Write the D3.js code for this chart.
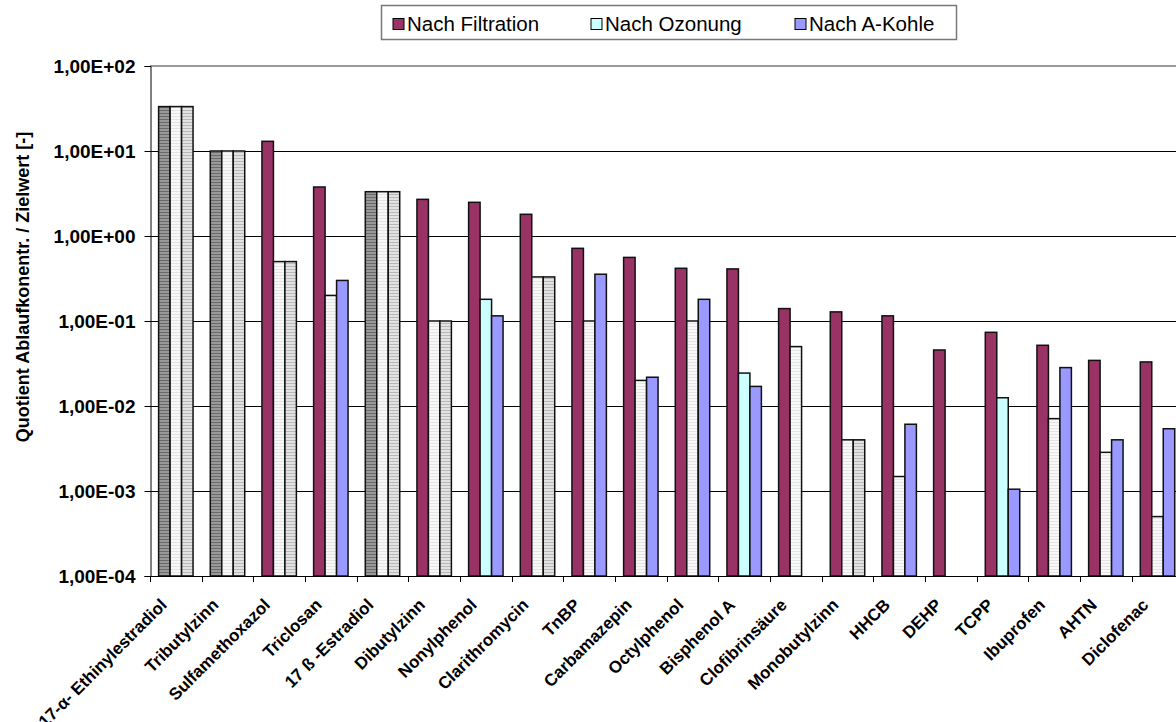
<!DOCTYPE html>
<html>
<head>
<meta charset="utf-8">
<script src="https://cdn.jsdelivr.net/npm/d3@7"></script>
<style>
  body { margin: 0; background: #fff; }
  text { font-family: "Liberation Sans", Arial, sans-serif; }
</style>
</head>
<body>
<svg></svg>
<script>
// Chart data
var categories = ["17-\u03b1- Ethinylestradiol", "Tributylzinn", "Sulfamethoxazol", "Triclosan",
  "17 \u00df -Estradiol", "Dibutylzinn", "Nonylphenol", "Clarithromycin", "TnBP", "Carbamazepin",
  "Octylphenol", "Bisphenol A", "Clofibrins\u00e4ure", "Monobutylzinn", "HHCB", "DEHP", "TCPP",
  "Ibuprofen", "AHTN", "Diclofenac"]
var seriesNames = ["Nach Filtration", "Nach Ozonung", "Nach A-Kohle"]
var filtration = [33.3, 10, 13, 3.77, 3.32, 2.7, 2.49, 1.8, 0.716, 0.56, 0.417, 0.41, 0.14, 0.128, 0.115, 0.0456, 0.0736, 0.0518, 0.0344, 0.033]
var ozonung = [33.3, 10, 0.5, 0.2, 3.32, 0.1, 0.18, 0.33, 0.1, 0.02, 0.1, 0.0244, 0.05, 0.004, 0.00148, null, 0.0125, 0.0071, 0.00285, 0.0005]
var aKohle = [33.3, 10, 0.5, 0.3, 3.32, 0.1, 0.115, 0.33, 0.355, 0.0218, 0.18, 0.017, null, 0.004, 0.0061, null, 0.00105, 0.0283, 0.004, 0.0054]
// 1 = value under the determination limit (drawn hatched)
var filtrationBG = [1, 1, 0, 0, 1, 0, 0, 0, 0, 0, 0, 0, 0, 0, 0, 0, 0, 0, 0, 0]
var ozonungBG = [1, 1, 1, 1, 1, 1, 0, 1, 1, 1, 1, 0, 1, 1, 1, 0, 0, 1, 1, 1]
var aKohleBG = [1, 1, 1, 0, 1, 1, 0, 1, 0, 0, 0, 0, 0, 1, 0, 0, 0, 0, 0, 0]
var yTicks = [1e2, 1e1, 1e0, 1e-1, 1e-2, 1e-3, 1e-4]

var width = 1176
var height = 722
var svg = d3.select("svg")
  .attr("width", width)
  .attr("height", height)
  .attr("viewBox", "0 0 " + width + " " + height)

var colors = ["#993366", "#ccffff", "#9999ff"]
var values = [filtration, ozonung, aKohle]
var flags = [filtrationBG, ozonungBG, aKohleBG]

// hatch patterns for the "below limit" bars
var defs = svg.append("defs")
var hatch = [["#999999", "#6a6a6a"], ["#f8f8f8", "#e4e4e4"], ["#e2e2e2", "#b8b8b8"]]
hatch.forEach(function(h, i) {
  var p = defs.append("pattern")
    .attr("id", "hatch" + i)
    .attr("patternUnits", "userSpaceOnUse")
    .attr("width", 4).attr("height", 3)
  p.append("rect").attr("width", 4).attr("height", 3).attr("fill", h[0])
  p.append("rect").attr("y", 2).attr("width", 4).attr("height", 1).attr("fill", h[1])
})

// scales
var plotLeft = 150, plotTop = 66, plotBottom = 576
var step = 51.667
var x = d3.scaleBand()
  .domain(categories)
  .range([plotLeft, plotLeft + step * categories.length])
var xSub = d3.scaleBand()
  .domain([0, 1, 2])
  .range([0, x.bandwidth()])
  .paddingOuter(0.75)
var y = d3.scaleLog()
  .domain([1e-4, 1e2])
  .range([plotBottom, plotTop])

function fmt(v) {
  var e = Math.round(Math.log10(v))
  var s = e < 0 ? "-" : "+"
  var a = Math.abs(e)
  return "1,00E" + s + (a < 10 ? "0" : "") + a
}

// grid lines
svg.append("g")
  .selectAll("line")
  .data(yTicks.filter(function(d) { return d < 1e2 && d > 1e-4 }))
  .enter()
  .append("line")
  .attr("x1", plotLeft).attr("x2", width)
  .attr("y1", function(d) { return Math.round(y(d)) + 0.5 })
  .attr("y2", function(d) { return Math.round(y(d)) + 0.5 })
  .attr("stroke", "#000")
  .attr("stroke-width", 1)

// plot area top border
svg.append("line")
  .attr("x1", plotLeft).attr("x2", width)
  .attr("y1", plotTop).attr("y2", plotTop)
  .attr("stroke", "#9a9a9a")
  .attr("stroke-width", 2)

// bars
var bars = []
categories.forEach(function(c, i) {
  values.forEach(function(s, j) {
    if (s[i] != null) bars.push({ cat: c, series: j, value: s[i], bg: flags[j][i] })
  })
})
svg.append("g")
  .selectAll("rect")
  .data(bars)
  .enter()
  .append("rect")
  .attr("x", function(d) { return x(d.cat) + xSub(d.series) })
  .attr("width", xSub.bandwidth())
  .attr("y", function(d) { return y(d.value) })
  .attr("height", function(d) { return plotBottom - y(d.value) })
  .attr("fill", function(d) { return d.bg ? "url(#hatch" + d.series + ")" : colors[d.series] })
  .attr("stroke", "#111")
  .attr("stroke-width", 1.5)

// y axis
var yAxis = svg.append("g")
  .attr("transform", "translate(" + (plotLeft + 0.5) + ",0)")
  .call(d3.axisLeft(y).tickValues(yTicks).tickFormat(fmt).tickSize(6).tickPadding(9))
yAxis.select(".domain").attr("stroke", "#000")
yAxis.selectAll("text")
  .attr("font-size", 19)
  .attr("font-weight", "bold")
  .attr("fill", "#000")

// x axis line and ticks at category borders
svg.append("line")
  .attr("x1", plotLeft).attr("x2", width)
  .attr("y1", plotBottom + 0.5).attr("y2", plotBottom + 0.5)
  .attr("stroke", "#000")
svg.append("g")
  .selectAll("line")
  .data(d3.range(categories.length + 1))
  .enter()
  .append("line")
  .attr("x1", function(d) { return Math.round(plotLeft + d * step) + 0.5 })
  .attr("x2", function(d) { return Math.round(plotLeft + d * step) + 0.5 })
  .attr("y1", plotBottom).attr("y2", plotBottom + 6)
  .attr("stroke", "#000")

// category labels
svg.append("g")
  .selectAll("text")
  .data(categories)
  .enter()
  .append("text")
  .attr("transform", function(d) {
    return "translate(" + (x(d) + x.bandwidth() / 2 - 8) + "," + 606 + ") rotate(-45)"
  })
  .attr("text-anchor", "end")
  .attr("font-size", 17)
  .attr("font-weight", "bold")
  .text(function(d) { return d })

// y axis title
svg.append("text")
  .attr("transform", "translate(29," + 287 + ") rotate(-90)")
  .attr("text-anchor", "middle")
  .attr("font-size", 18)
  .attr("font-weight", "bold")
  .text("Quotient Ablaufkonentr. / Zielwert [-]")

// legend
var legend = svg.append("g")
legend.append("rect")
  .attr("x", 381.5).attr("y", 5.5)
  .attr("width", 575).attr("height", 34)
  .attr("fill", "#fff")
  .attr("stroke", "#7a7a7a")
  .attr("stroke-width", 1.5)
var legendX = [393, 591, 795]
seriesNames.forEach(function(n, i) {
  legend.append("rect")
    .attr("x", legendX[i]).attr("y", 18.5)
    .attr("width", 11).attr("height", 11)
    .attr("fill", colors[i])
    .attr("stroke", "#000")
  legend.append("text")
    .attr("x", legendX[i] + 14).attr("y", 30.5)
    .attr("font-size", 20.5)
    .text(n)
})
</script>
</body>
</html>
